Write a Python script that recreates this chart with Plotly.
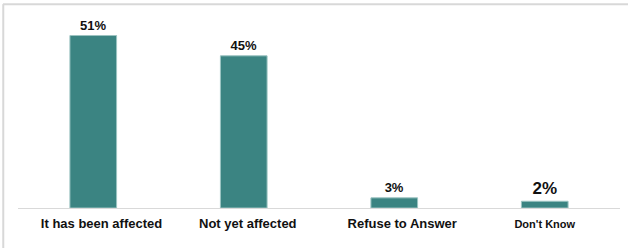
import plotly.graph_objects as go

categories = ["It has been affected", "Not yet affected", "Refuse to Answer", "Don't Know"]
values = [51, 45, 3, 2]
value_labels = ["51%", "45%", "3%", "2%"]
tick_labels = ["It has been affected", "Not yet affected", "Refuse to Answer",
               "<span style='font-size:11px'>Don't Know</span>"]

# styling
bar_color = "#3b8482"
label_sizes = [13, 13, 13, 17]
tick_shift = [0.055, 0.027, 0.053, 0.0]  # small label offsets seen in the reference

positions = list(range(len(categories)))

fig = go.Figure()
fig.add_trace(go.Bar(
    x=positions, y=values, width=0.31,
    marker=dict(color=bar_color, line=dict(color="#9cc4c2", width=1)),
    text=value_labels, textposition="outside",
    textfont=dict(family="Liberation Sans, Arial", size=label_sizes, color="#111111", weight="bold"),
    cliponaxis=False,
    hovertext=categories,
))

fig.update_layout(
    width=628, height=248,
    margin=dict(l=18, r=8, t=22, b=40, autoexpand=False),
    paper_bgcolor="white", plot_bgcolor="white",
    showlegend=False,
    font=dict(family="Liberation Sans, Arial", color="#111111"),
    xaxis=dict(
        range=[-0.5, len(categories) - 0.5],
        tickmode="array", tickvals=[p + s for p, s in zip(positions, tick_shift)], ticktext=tick_labels,
        tickfont=dict(size=13, weight="bold", color="#111111"),
        showline=True, linecolor="#d9d9d9", linewidth=1,
        showgrid=False, zeroline=False, ticks="", automargin=False, ticklabelstandoff=3,
    ),
    yaxis=dict(range=[0, 55], visible=False, showgrid=False, automargin=False),
    shapes=[
        dict(type="line", xref="paper", yref="paper", x0=-0.025, x1=1.02, y0=1.096, y1=1.096,
             line=dict(color="#d8d8d8", width=2), layer="above"),
        dict(type="line", xref="paper", yref="paper", x0=-0.0245, x1=-0.0245, y0=1.096, y1=-0.25,
             line=dict(color="#d8d8d8", width=2), layer="above"),
    ],
)

fig.write_html("out.html", config={"displayModeBar": False},
               post_script="document.body.style.margin='0px';document.body.style.overflow='hidden';")
